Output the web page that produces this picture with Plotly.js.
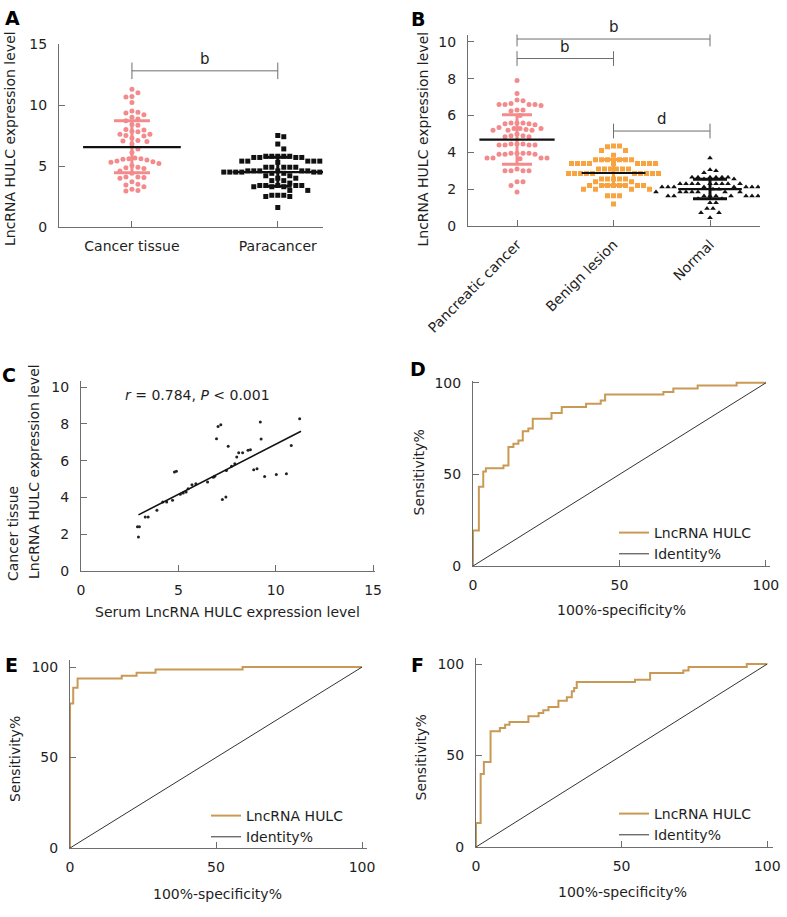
<!DOCTYPE html>
<html>
<head>
<meta charset="utf-8">
<script src="https://cdn.plot.ly/plotly-3.0.1.min.js"></script>
<style>
  html, body { margin: 0; padding: 0; background: #fff; }
  #chart { width: 787px; height: 917px; }
</style>
</head>
<body>
<div id="chart"></div>
<script>
// ---- data ----
const groupsA = ['Cancer tissue', 'Paracancer'];
const cancerTissue = [11.3, 11.0, 10.7, 10.65, 10.2, 9.5, 9.4, 9.35, 9.2, 9.0, 8.85, 8.7, 8.4, 8.35, 8.0, 7.95, 7.85, 7.8,
  7.6, 7.6, 7.5, 7.45, 7.3, 7.1, 7.05, 7.0, 6.8, 6.4, 6.1, 5.65, 5.6, 5.6, 5.55, 5.5, 5.4, 5.35, 5.3, 5.2, 5.05,
  4.9, 4.85, 4.8, 4.6, 4.4, 4.1, 4.1, 4.05, 4.0, 3.7, 3.5, 3.45, 3.3, 3.1, 3.0, 2.95];
const paracancer = [7.5, 7.4, 6.8, 6.4, 5.8, 5.8, 5.8, 5.8, 5.8, 5.7, 5.7, 5.7, 5.7, 5.4, 5.4, 5.4, 5.4, 5.4, 5.3,
  4.9, 4.9, 4.9, 4.9, 4.9, 4.6, 4.6, 4.6, 4.6, 4.6, 4.6, 4.5, 4.5, 4.5, 4.5, 4.5, 4.5, 4.5, 4.5, 4.4, 4.4,
  4.2, 4.2, 4.0, 4.0, 3.8, 3.8, 3.6, 3.4, 3.4, 3.4, 3.4, 3.4, 3.3, 3.3, 3.3, 3.0, 3.0, 2.6, 2.6, 2.6, 2.5, 2.5, 1.6];
const meanA = [6.55, 4.5];
const sdHighA = [8.7, 5.72];
const sdLowA = [4.45, 3.33];
const bracketFromA = [0];
const bracketToA = [1];
const bracketLevelA = [12.8];
const bracketTextA = ['b'];

const groupsB = ['Pancreatic cancer', 'Benign lesion', 'Normal'];
const pancreatic = [7.9, 7.2, 6.85, 6.8, 6.65, 6.6, 6.6, 6.6, 6.55, 6.6, 6.3, 6.25, 6.3, 6.0, 5.6, 5.55, 5.5, 5.6,
  5.6, 5.55, 5.35, 5.3, 5.25, 5.2, 5.2, 5.3, 5.3, 5.2, 4.9, 4.85, 5.0, 4.85, 4.9, 4.45, 4.4, 4.4, 4.45, 4.4, 4.45,
  4.4, 3.95, 3.9, 3.95, 3.9, 3.95, 3.9, 3.95, 3.7, 3.7, 3.65, 3.7, 3.7, 3.0, 3.0, 3.0, 3.0, 3.1, 2.4, 2.4, 2.2, 1.85];
const benign = [4.35, 4.3, 4.35, 4.1, 4.1, 3.85, 3.6, 3.6, 3.6, 3.6, 3.6, 3.6, 3.4, 3.4, 3.4, 3.4, 3.4, 3.4, 3.4,
  3.4, 3.4, 3.1, 3.1, 3.1, 3.1, 3.1, 3.1, 2.85, 2.85, 2.85, 2.85, 2.85, 2.85, 2.85, 2.85, 2.85, 2.85, 2.55, 2.55,
  2.55, 2.55, 2.55, 2.4, 2.4, 2.2, 2.2, 2.2, 2.2, 2.2, 2.2, 2.2, 2.2, 2.0, 2.0, 2.0, 2.0, 1.65, 1.65, 1.65, 1.2];
const normal = [3.7, 3.05, 3.0, 2.9, 2.65, 2.65, 2.65, 2.65, 2.65, 2.65, 2.55, 2.55, 2.3, 2.3, 2.3, 2.3, 2.3, 2.3,
  2.3, 2.3, 2.3, 2.12, 2.12, 2.12, 2.12, 2.12, 2.12, 2.12, 2.12, 2.0, 2.0, 1.85, 1.85, 1.85, 1.85, 1.85, 1.85,
  1.85, 1.85, 1.63, 1.63, 1.63, 1.63, 1.63, 1.63, 1.63, 1.63, 1.63, 1.48, 1.48, 1.27, 1.27, 0.95, 0.95, 0.72, 0.72, 0.45];
const meanB = [4.69, 2.88, 2.0];
const sdHighB = [6.05, 3.62, 2.54];
const sdLowB = [3.36, 2.21, 1.48];
const bracketFromB = [0, 0, 1];
const bracketToB = [2, 1, 2];
const bracketLevelB = [10.16, 9.1, 5.16];
const bracketTextB = ['b', 'b', 'd'];

const serumC = [2.9, 3.0, 2.95, 3.3, 3.45, 3.9, 4.2, 4.4, 4.7, 4.8, 4.9, 5.1, 5.25, 5.4, 5.5, 5.7, 5.9, 6.5, 6.8,
  6.87, 6.96, 7.04, 7.18, 7.26, 7.44, 7.47, 7.56, 7.73, 7.9, 8.0, 8.1, 8.3, 8.58, 8.7, 8.87, 9.04, 9.21, 9.25,
  9.43, 10.03, 10.55, 10.8, 11.23];
const tissueC = [2.4, 2.4, 1.85, 2.93, 2.93, 3.3, 3.75, 3.75, 3.85, 5.38, 5.43, 4.17, 4.24, 4.29, 4.47, 4.69, 4.75,
  4.84, 5.1, 5.15, 7.19, 7.86, 7.95, 3.89, 4.02, 5.47, 6.78, 5.69, 5.83, 6.2, 6.43, 6.43, 6.56, 6.59, 5.5, 5.56,
  8.1, 7.17, 5.14, 5.25, 5.29, 6.83, 8.28];
const fitC_x = [2.95, 11.3];
const fitC_y = [3.05, 7.6];

const rocD_fpr = [0, 2, 3.5, 4.4, 10.4, 12.1, 13.8, 15.5, 17, 18.9, 20.4, 26.8, 30.3, 38.6, 43.6, 45.1, 65, 68.4, 76.7, 90, 100];
const rocD_tpr = [0, 19.4, 43.2, 51.6, 53.3, 54.8, 65, 66.8, 68.5, 73.5, 75, 80.4, 83.5, 86.8, 88.6, 90.3, 93.6, 95, 96.9, 98.5, 100];
const rocE_fpr = [0, 1.1, 2.6, 17.7, 22.8, 29.3, 59.1, 100];
const rocE_tpr = [0, 79.9, 88.6, 93.7, 95.2, 96.9, 98.7, 100];
const rocF_fpr = [0, 1.6, 2.7, 5.0, 8.2, 10.0, 11.5, 18, 21.5, 23.1, 24.9, 28.3, 31.2, 32.9, 33.7, 34.6, 54.6, 59.8, 71.2, 73, 93, 100];
const rocF_tpr = [0, 13.1, 39.9, 46.4, 63.2, 65, 66.8, 68.3, 71.4, 73.2, 74.7, 76.5, 80, 81.8, 85.1, 86.9, 90.2, 91.4, 95.1, 96.4, 98.4, 100];
const identity = [0, 100];

// ---- styling ----
const W = 787, H = 917;
const FONT = 'DejaVu Sans, Verdana, sans-serif';
const GREY = '#6e6e6e';
const PINK = '#f38a8c';
const ORANGE = '#f7a33f';
const ROC = '#c99a56';
const TXT = '#1e1e1e';

function dx(a, b) { return [a / W, b / W]; }
function dy(top, bottom) { return [1 - bottom / H, 1 - top / H]; }

function axis(extra) {
  return Object.assign({
    showgrid: false, zeroline: false, showline: true, linecolor: GREY, linewidth: 1,
    ticks: 'inside', ticklen: 6, tickcolor: GREY, tickwidth: 1,
    tickfont: { family: FONT, size: 14, color: TXT }, fixedrange: true
  }, extra);
}

const ax = {
  xaxis: axis({ domain: dx(59, 323), range: [-0.5, 1.31], tickvals: [0, 1], ticktext: groupsA, anchor: 'y', ticklabelstandoff: 6 }),
  yaxis: axis({ domain: dy(44, 227), range: [0, 15], tickvals: [0, 5, 10, 15], anchor: 'x', ticklabelstandoff: 8 }),
  xaxis2: axis({ domain: dx(468, 760), range: [-0.508, 2.518], tickvals: [0, 1, 2], ticktext: groupsB, tickangle: -45, anchor: 'y2', ticklabelstandoff: 4 }),
  yaxis2: axis({ domain: dy(34.6, 226), range: [0, 10.4], tickvals: [0, 2, 4, 6, 8, 10], anchor: 'x2', ticklabelstandoff: 8 }),
  xaxis3: axis({ domain: dx(81, 375), range: [0, 15.1], tickvals: [0, 5, 10, 15], anchor: 'y3', ticklabelstandoff: 6 }),
  yaxis3: axis({ domain: dy(381, 571), range: [0, 10.33], tickvals: [0, 2, 4, 6, 8, 10], anchor: 'x3', ticklabelstandoff: 8 }),
  xaxis4: axis({ domain: dx(473, 770), range: [0, 101.4], tickvals: [0, 50, 100], anchor: 'y4', ticklabelstandoff: 6 }),
  yaxis4: axis({ domain: dy(381, 566), range: [0, 101], tickvals: [0, 50, 100], anchor: 'x4', ticklabelstandoff: 8 }),
  xaxis5: axis({ domain: dx(70, 367), range: [0, 101.7], tickvals: [0, 50, 100], anchor: 'y5', ticklabelstandoff: 6 }),
  yaxis5: axis({ domain: dy(660, 848), range: [0, 103.9], tickvals: [0, 50, 100], anchor: 'x5', ticklabelstandoff: 8 }),
  xaxis6: axis({ domain: dx(476, 773), range: [0, 102], tickvals: [0, 50, 100], anchor: 'y6', ticklabelstandoff: 6 }),
  yaxis6: axis({ domain: dy(658, 847), range: [0, 103.3], tickvals: [0, 50, 100], anchor: 'x6', ticklabelstandoff: 8 })
};

// simple beeswarm: put each point as close to the centre as it can go without overlap
function swarm(values, center, xAxis, yAxis, step) {
  const sx = (xAxis.domain[1] - xAxis.domain[0]) * W / (xAxis.range[1] - xAxis.range[0]);
  const sy = (yAxis.domain[1] - yAxis.domain[0]) * H / (yAxis.range[1] - yAxis.range[0]);
  const placed = [];
  const xs = new Array(values.length);
  const order = values.map((v, i) => i).sort((a, b) => values[b] - values[a]);
  order.forEach(i => {
    const py = values[i] * sy;
    for (let k = 0; k < 400; k++) {
      const off = k === 0 ? 0 : (k % 2 ? 1 : -1) * Math.ceil(k / 2) * step / 2;
      const hit = placed.some(p => Math.hypot(p[0] - off, p[1] - py) < step - 0.01);
      if (!hit) {
        placed.push([off, py]);
        xs[i] = center + off / sx;
        break;
      }
    }
  });
  return xs;
}

function dots(values, center, xName, yName, color, symbol, size, step) {
  return {
    type: 'scatter', mode: 'markers', showlegend: false, hoverinfo: 'skip',
    x: swarm(values, center, ax[xName], ax[yName], step), y: values,
    xaxis: xName.replace('axis', ''), yaxis: yName.replace('axis', ''),
    marker: { color: color, symbol: symbol, size: size, line: { width: 0 } }
  };
}

function meanSd(i, mean, hi, lo, xa, ya, sdColor, halfLen, capPx) {
  return {
    type: 'scatter', mode: 'markers', showlegend: false, hoverinfo: 'skip',
    x: [i], y: [mean[i]], xaxis: xa, yaxis: ya,
    marker: { size: 1, opacity: 0 },
    error_y: { type: 'data', symmetric: false, array: [hi[i] - mean[i]], arrayminus: [mean[i] - lo[i]],
      color: sdColor, thickness: 3, width: capPx },
    error_x: { type: 'data', array: [halfLen], color: '#111', thickness: 2.2, width: 0 }
  };
}

const traces = [
  dots(cancerTissue, 0, 'xaxis', 'yaxis', PINK, 'circle', 5, 6),
  dots(paracancer, 1, 'xaxis', 'yaxis', '#111', 'square', 5, 6),
  meanSd(0, meanA, sdHighA, sdLowA, 'x', 'y', PINK, 0.335, 18),
  meanSd(1, meanA, sdHighA, sdLowA, 'x', 'y', '#111', 0.31, 14),
  dots(pancreatic, 0, 'xaxis2', 'yaxis2', PINK, 'circle', 5, 6),
  dots(benign, 1, 'xaxis2', 'yaxis2', ORANGE, 'square', 5, 6),
  dots(normal, 2, 'xaxis2', 'yaxis2', '#111', 'triangle-up', 5, 6),
  meanSd(0, meanB, sdHighB, sdLowB, 'x2', 'y2', PINK, 0.39, 15),
  meanSd(1, meanB, sdHighB, sdLowB, 'x2', 'y2', ORANGE, 0.33, 13),
  meanSd(2, meanB, sdHighB, sdLowB, 'x2', 'y2', '#111', 0.33, 17),
  {
    type: 'scatter', mode: 'markers', x: serumC, y: tissueC, xaxis: 'x3', yaxis: 'y3',
    marker: { color: '#222', size: 3 }, showlegend: false, hoverinfo: 'skip'
  },
  {
    type: 'scatter', mode: 'lines', x: fitC_x, y: fitC_y, xaxis: 'x3', yaxis: 'y3',
    line: { color: '#111', width: 1.6 }, showlegend: false, hoverinfo: 'skip'
  }
];

const rocSets = [
  { fpr: rocD_fpr, tpr: rocD_tpr, xa: 'x4', ya: 'y4', legend: 'legend' },
  { fpr: rocE_fpr, tpr: rocE_tpr, xa: 'x5', ya: 'y5', legend: 'legend2' },
  { fpr: rocF_fpr, tpr: rocF_tpr, xa: 'x6', ya: 'y6', legend: 'legend3' }
];
rocSets.forEach(r => {
  traces.push({
    type: 'scatter', mode: 'lines', name: 'LncRNA HULC', x: r.fpr, y: r.tpr,
    xaxis: r.xa, yaxis: r.ya, legend: r.legend,
    line: { color: ROC, width: 2, shape: 'vh' }, hoverinfo: 'skip'
  });
  traces.push({
    type: 'scatter', mode: 'lines', name: 'Identity%', x: identity, y: identity,
    xaxis: r.xa, yaxis: r.ya, legend: r.legend,
    line: { color: '#333', width: 1 }, hoverinfo: 'skip'
  });
});

// ---- brackets ----
const shapes = [];
const annotations = [];
function addBrackets(from, to, level, text, xr, yr, tickHalf) {
  for (let i = 0; i < from.length; i++) {
    const line = { type: 'line', xref: xr, yref: yr, line: { color: GREY, width: 1 } };
    shapes.push(Object.assign({}, line, { x0: from[i], x1: to[i], y0: level[i], y1: level[i] }));
    shapes.push(Object.assign({}, line, { x0: from[i], x1: from[i], y0: level[i] - tickHalf, y1: level[i] + tickHalf }));
    shapes.push(Object.assign({}, line, { x0: to[i], x1: to[i], y0: level[i] - tickHalf, y1: level[i] + tickHalf }));
    annotations.push({
      xref: xr, yref: yr, x: (from[i] + to[i]) / 2, y: level[i], text: text[i],
      showarrow: false, yanchor: 'bottom', yshift: 1, font: { family: FONT, size: 15, color: TXT }
    });
  }
}
addBrackets(bracketFromA, bracketToA, bracketLevelA, bracketTextA, 'x', 'y', 0.68);
addBrackets(bracketFromB, bracketToB, bracketLevelB, bracketTextB, 'x2', 'y2', 0.4);

// ---- text placed in pixel positions ----
function note(text, x, y, opts) {
  annotations.push(Object.assign({
    xref: 'paper', yref: 'paper', x: x / W, y: 1 - y / H, text: text, showarrow: false,
    xanchor: 'center', yanchor: 'middle', font: { family: FONT, size: 14, color: TXT }
  }, opts || {}));
}
const bold = { family: 'DejaVu Sans, sans-serif', size: 19, color: '#000', weight: 'bold' };
note('<b>A</b>', 12, 18, { font: bold });
note('<b>B</b>', 418, 19, { font: bold });
note('<b>C</b>', 9, 375, { font: bold });
note('<b>D</b>', 418, 369, { font: bold });
note('<b>E</b>', 11, 665, { font: bold });
note('<b>F</b>', 418, 665, { font: bold });

note('LncRNA HULC expression level', 10, 139, { textangle: -90 });
note('LncRNA HULC expression level', 422.5, 139, { textangle: -90 });
note('Cancer tissue', 12.5, 583, { textangle: -90, yanchor: 'bottom' });
note('LncRNA HULC expression level', 34, 472, { textangle: -90 });
note('Serum LncRNA HULC expression level', 227, 612);
note('<i>r</i> = 0.784, <i>P</i> &lt; 0.001', 197, 395);
note('Sensitivity%', 418.5, 473, { textangle: -90 });
note('100%-specificity%', 621, 610);
note('Sensitivity%', 15, 759, { textangle: -90 });
note('100%-specificity%', 217.5, 894);
note('Sensitivity%', 420.5, 758, { textangle: -90 });
note('100%-specificity%', 622, 892);

function legendAt(x, y) {
  return {
    x: x / W, y: 1 - y / H, xref: 'paper', yref: 'paper', xanchor: 'left', yanchor: 'top',
    bgcolor: 'rgba(0,0,0,0)', borderwidth: 0, tracegroupgap: 0,
    font: { family: FONT, size: 14, color: TXT }
  };
}

const layout = Object.assign({
  width: W, height: H,
  margin: { l: 0, r: 0, t: 0, b: 0 },
  paper_bgcolor: '#fff', plot_bgcolor: '#fff',
  font: { family: FONT, size: 14, color: TXT },
  showlegend: true,
  legend: legendAt(614, 517),
  legend2: legendAt(206, 800),
  legend3: legendAt(614, 798),
  shapes: shapes,
  annotations: annotations
}, ax);

Plotly.newPlot('chart', traces, layout, { displayModeBar: false, staticPlot: true });
</script>
</body>
</html>
